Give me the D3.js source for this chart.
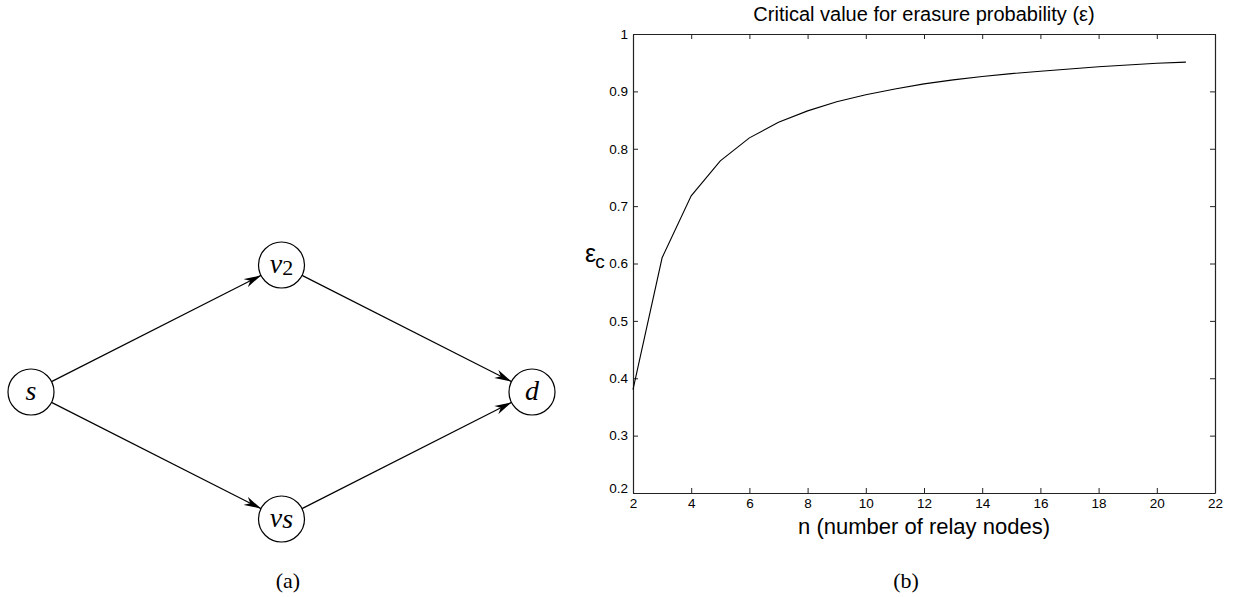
<!DOCTYPE html>
<html>
<head>
<meta charset="utf-8">
<script src="https://cdn.jsdelivr.net/npm/d3@7"></script>
<style>
body{margin:0;background:#fff;}
svg{display:block;}
</style>
</head>
<body>
<svg id="c" width="1233" height="597"></svg>
<script>
// ---- Data ----
const nValues = [2,3,4,5,6,7,8,9,10,11,12,13,14,15,16,17,18,19,20,21];
const epsCritical = [0.38,0.61,0.718,0.779,0.819,0.846,0.866,0.882,0.894,0.904,0.913,0.920,0.926,0.931,0.935,0.939,0.943,0.946,0.949,0.951];
const xTicks = [2,4,6,8,10,12,14,16,18,20,22];
const yTicks = [0.2,0.3,0.4,0.5,0.6,0.7,0.8,0.9,1];
const yTickLabels = ["0.2","0.3","0.4","0.5","0.6","0.7","0.8","0.9","1"];
const nodeNames = ["s","v2","vs","d"];
const nodeCol = [0,1,1,2];
const nodeRow = [1,0,2,1];
const edgeList = [["s","v2"],["s","vs"],["v2","d"],["vs","d"]];

(function(){
const svg = d3.select("#c");

// ---- defs ----
svg.append("defs").append("marker")
  .attr("id","arr").attr("viewBox","0 0 17 10").attr("refX",17).attr("refY",5)
  .attr("markerWidth",17).attr("markerHeight",10).attr("markerUnits","userSpaceOnUse")
  .attr("orient","auto")
  .append("path").attr("d","M0,0.5 L17,5 L0,9.5 L5,5 Z").attr("fill","#000");

// ---- Panel (a): graph ----
const gx = d3.scalePoint().domain([0,1,2]).range([31,532]);
const gy = d3.scalePoint().domain([0,1,2]).range([265,519]);
const R = 23;
const nodes = nodeNames.map((n,i)=>({name:n,x:gx(nodeCol[i]),y:gy(nodeRow[i])}));
const byName = Object.fromEntries(nodes.map(d=>[d.name,d]));
const ga = svg.append("g");
ga.selectAll("line.edge").data(edgeList).enter().append("line")
  .attr("class","edge")
  .each(function(e){
    const a=byName[e[0]], b=byName[e[1]];
    const dx=b.x-a.x, dy=b.y-a.y, L=Math.hypot(dx,dy);
    d3.select(this)
      .attr("x1",a.x+dx/L*R).attr("y1",a.y+dy/L*R)
      .attr("x2",b.x-dx/L*R).attr("y2",b.y-dy/L*R);
  })
  .attr("stroke","#000").attr("stroke-width",1.2).attr("marker-end","url(#arr)");
ga.selectAll("circle").data(nodes).enter().append("circle")
  .attr("cx",d=>d.x).attr("cy",d=>d.y).attr("r",R)
  .attr("fill","#fff").attr("stroke","#000").attr("stroke-width",1.2);
const lbl = ga.selectAll("text.node").data(nodes).enter().append("text")
  .attr("class","node")
  .attr("x",d=>d.x).attr("y",d=>d.y+8)
  .attr("text-anchor","middle")
  .attr("font-family","'Liberation Serif','DejaVu Serif',serif")
  .attr("font-style","italic").attr("font-size",28);
lbl.each(function(d){
  const t=d3.select(this);
  if(d.name.length===1){ t.text(d.name); }
  else {
    t.append("tspan").text(d.name[0]);
    const sub=d.name[1];
    t.append("tspan").text(sub)
      .attr("font-style", sub==="2" ? "normal" : "italic")
      .attr("font-size", sub==="2" ? 22 : 28)
      .attr("dy", sub==="2" ? 2 : 1);
  }
});
svg.append("text").attr("x",288).attr("y",588).attr("text-anchor","middle")
  .attr("font-family","'Liberation Serif',serif").attr("font-size",22).text("(a)");

// ---- Panel (b): line chart ----
const pLeft=633, pRight=1215, pTop=34, pBottom=493;
const x = d3.scaleLinear().domain([2,22]).range([pLeft,pRight]);
const y = d3.scaleLinear().domain([0.2,1]).range([pBottom,pTop]);
const gb = svg.append("g");
const font="'Liberation Sans',Arial,sans-serif";

const axB = d3.axisBottom(x).tickValues(xTicks).tickSizeInner(-5).tickSizeOuter(0).tickPadding(5).tickFormat(d3.format("d"));
const axT = d3.axisTop(x).tickValues(xTicks).tickSizeInner(-5).tickSizeOuter(0).tickFormat("");
const axL = d3.axisLeft(y).tickValues(yTicks).tickSizeInner(-5).tickSizeOuter(0).tickPadding(5).tickFormat((d,i)=>yTickLabels[i]);
const axR = d3.axisRight(y).tickValues(yTicks).tickSizeInner(-5).tickSizeOuter(0).tickFormat("");

function style(g){
  g.selectAll("path").attr("stroke","#222").attr("stroke-width",1.2);
  g.selectAll("line").attr("stroke","#222").attr("stroke-width",1);
  g.selectAll("text").attr("font-family",font).attr("font-size",13.5).attr("fill","#000");
}
gb.append("g").attr("transform",`translate(0,${pBottom})`).call(axB).call(style);
gb.append("g").attr("transform",`translate(0,${pTop})`).call(axT).call(style);
gb.append("g").attr("transform",`translate(${pLeft},0)`).call(axL).call(style);
gb.append("g").attr("transform",`translate(${pRight},0)`).call(axR).call(style);
gb.selectAll("text").filter(function(){return this.textContent==="0.2";}).attr("dy","-0.05em");

const line = d3.line().x((d,i)=>x(nValues[i])).y(d=>y(d));
gb.append("path").datum(epsCritical).attr("d",line)
  .attr("fill","none").attr("stroke","#000").attr("stroke-width",1.1);

gb.append("text").attr("x",(pLeft+pRight)/2).attr("y",21).attr("text-anchor","middle")
  .attr("font-family",font).attr("font-size",20).text("Critical value for erasure probability (ε)");
gb.append("text").attr("x",(pLeft+pRight)/2).attr("y",534).attr("text-anchor","middle")
  .attr("font-family",font).attr("font-size",22).text("n (number of relay nodes)");
const yl = gb.append("text").attr("x",585).attr("y",262)
  .attr("font-family",font).attr("font-size",25);
yl.append("tspan").text("ε");
yl.append("tspan").text("c").attr("font-size",19).attr("dx",-1).attr("dy",6);

svg.append("text").attr("x",906).attr("y",588).attr("text-anchor","middle")
  .attr("font-family","'Liberation Serif',serif").attr("font-size",22).text("(b)");
})();
</script>
</body>
</html>
